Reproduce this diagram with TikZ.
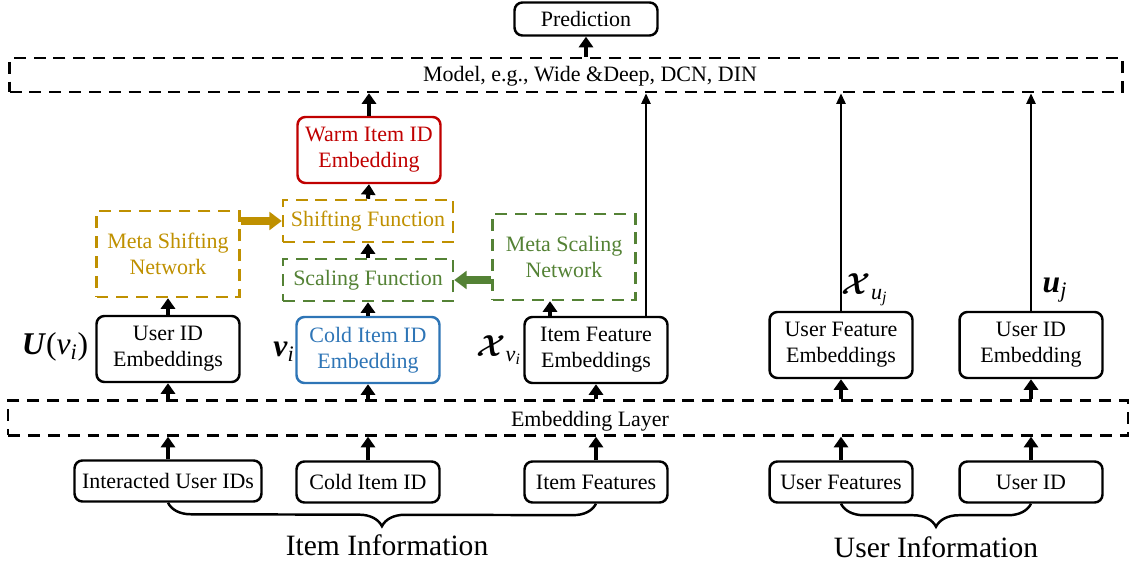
\documentclass[tikz,border=0pt]{standalone}
\usepackage{amsmath}
\usepackage{fontspec}
\setmainfont{Liberation Serif}
\usepackage{bm}
\usetikzlibrary{positioning, arrows.meta, decorations.pathreplacing}
\definecolor{warmred}{RGB}{192,0,0}
\definecolor{coldblue}{RGB}{46,117,182}
\definecolor{shiftgold}{RGB}{191,144,0}
\definecolor{scalegreen}{RGB}{84,130,53}

\begin{document}
\begin{tikzpicture}[x=0.02cm, y=-0.02cm]
  \tikzstyle{box} = [rectangle, draw=black, line width=1.4pt, rounded corners=4.5pt,
    minimum width=2.86cm, minimum height=1.32cm, align=center, inner sep=1pt,
    font=\fontsize{12.5}{14.8}\selectfont]
  \tikzstyle{dbox} = [box, rounded corners=0pt, dash pattern=on 6.8pt off 4.5pt]
  \tikzstyle{uparr} = [-{Triangle[width=8pt,length=6pt]}, line width=2.3pt]
  \tikzstyle{longarr} = [-{Triangle[width=5pt,length=6pt]}, line width=1.5pt]
  \tikzstyle{fatarr} = [-{Triangle[width=10pt,length=7pt]}, line width=4pt]
  \tikzstyle{mlabel} = [inner sep=0pt, font=\fontsize{18}{20}\selectfont]
  \useasboundingbox (0,0) rectangle (1133,564);

  % Prediction and model
  \node[box, minimum height=0.66cm] (pred) at (586,19) {Prediction};
  \node[dbox, minimum width=22.26cm, minimum height=0.68cm] (model) at (566,75) {};
  \node[font=\fontsize{12.5}{14.8}\selectfont] (modeltxt) at (590,76) {Model, e.g., Wide \&Deep, DCN, DIN};
  \draw[uparr] (pred.south |- model.north) -- (pred.south);

  % Warm-up part
  \node[box, draw=warmred, text=warmred] (warm) at (369,150) {Warm Item ID\\Embedding};
  \node[dbox, draw=shiftgold, text=shiftgold, minimum width=3.4cm, minimum height=0.84cm] (shiftfn) at (368,221) {Shifting Function};
  \node[dbox, draw=scalegreen, text=scalegreen, minimum width=3.4cm, minimum height=0.84cm] (scalefn) at (368,280) {Scaling Function};
  \node[dbox, draw=shiftgold, text=shiftgold, minimum height=1.72cm] (metash) at (168,254) {Meta Shifting\\Network};
  \node[dbox, draw=scalegreen, text=scalegreen, minimum height=1.72cm] (metasc) at (564,257) {Meta Scaling\\Network};

  % Embeddings
  \node[box] (uide) at (168,349) {User ID\\Embeddings};
  \node[box, draw=coldblue, text=coldblue] (cold) at (368,350) {Cold Item ID\\Embedding};
  \node[box] (ife) at (596,350) {Item Feature\\Embeddings};
  \node[box] (ufe) at (841,345) {User Feature\\Embeddings};
  \node[box] (uidemb) at (1031,345) {User ID\\Embedding};

  \node[mlabel] (luv) at (55,347) {\textbf{\textit{U}}(\textit{v}$_{\textit{i}}$)};
  \node[mlabel, anchor=east] (lv) at (295,352) {\textbf{\textit{v}}$_{\textit{i}}$};
  \node[mlabel, anchor=east] (lxv) at (522,350) {$\bm{\mathcal{X}}_{\textit{v}_{\textit{i}}}$};
  \node[mlabel] (lxu) at (865,290) {$\bm{\mathcal{X}}_{\textit{u}_{\textit{j}}}$};
  \node[mlabel] (lu) at (1055,290) {\textbf{\textit{u}}$_{\textit{j}}$};

  % Embedding layer
  \node[dbox, minimum width=22.4cm, minimum height=0.7cm] (emb) at (568,418) {};
  \node[font=\fontsize{12.5}{14.8}\selectfont] (embtxt) at (590,421) {Embedding Layer};

  % Inputs
  \node[box, minimum width=3.74cm, minimum height=0.82cm] (iuid) at (168,481) {Interacted User IDs};
  \foreach \nm/\x/\txt in {ci/368/Cold Item ID, itf/596/Item Features, usf/841/User Features, usid/1031/User ID}
    \node[box, minimum height=0.82cm] (\nm) at (\x,482) {\txt};

  \node[font=\fontsize{16.8}{20}\selectfont] (iteminfo) at (387,545) {Item Information};
  \node[font=\fontsize{16.8}{20}\selectfont] (userinfo) at (936,547) {User Information};
  \draw[line width=1.4pt, decorate, decoration={brace, mirror, amplitude=0.46cm}] (iuid.south) -- (itf.south);
  \draw[line width=1.4pt, decorate, decoration={brace, mirror, amplitude=0.46cm}] (usf.south) -- (usid.south);

  % Arrows
  \foreach \nm in {iuid, ci, itf, usf, usid}
    \draw[uparr] (\nm.north) -- (\nm.north |- emb.south);
  \foreach \nm in {uide, cold, ife, ufe, uidemb}
    \draw[uparr] (\nm.south |- emb.north) -- (\nm.south);
  \draw[uparr] (uide.north) -- (metash.south);
  \draw[uparr] (cold.north) -- (scalefn.south);
  \draw[uparr] ([xshift=-0.92cm]ife.north) -- ([xshift=-0.92cm]ife.north |- metasc.south);
  \draw[uparr] (scalefn.north) -- (shiftfn.south);
  \draw[uparr] (shiftfn.north) -- (warm.south);
  \draw[uparr] (warm.north) -- (warm.north |- model.south);
  \draw[fatarr, shiftgold] (metash.east |- shiftfn) -- (shiftfn.west);
  \draw[fatarr, scalegreen] (metasc.west |- scalefn) -- (scalefn.east);
  \draw[longarr] ([xshift=1cm]ife.north) -- ([xshift=1cm]ife.north |- model.south);
  \draw[longarr] (ufe.north) -- (ufe.north |- model.south);
  \draw[longarr] (uidemb.north) -- (uidemb.north |- model.south);
\end{tikzpicture}
\end{document}
